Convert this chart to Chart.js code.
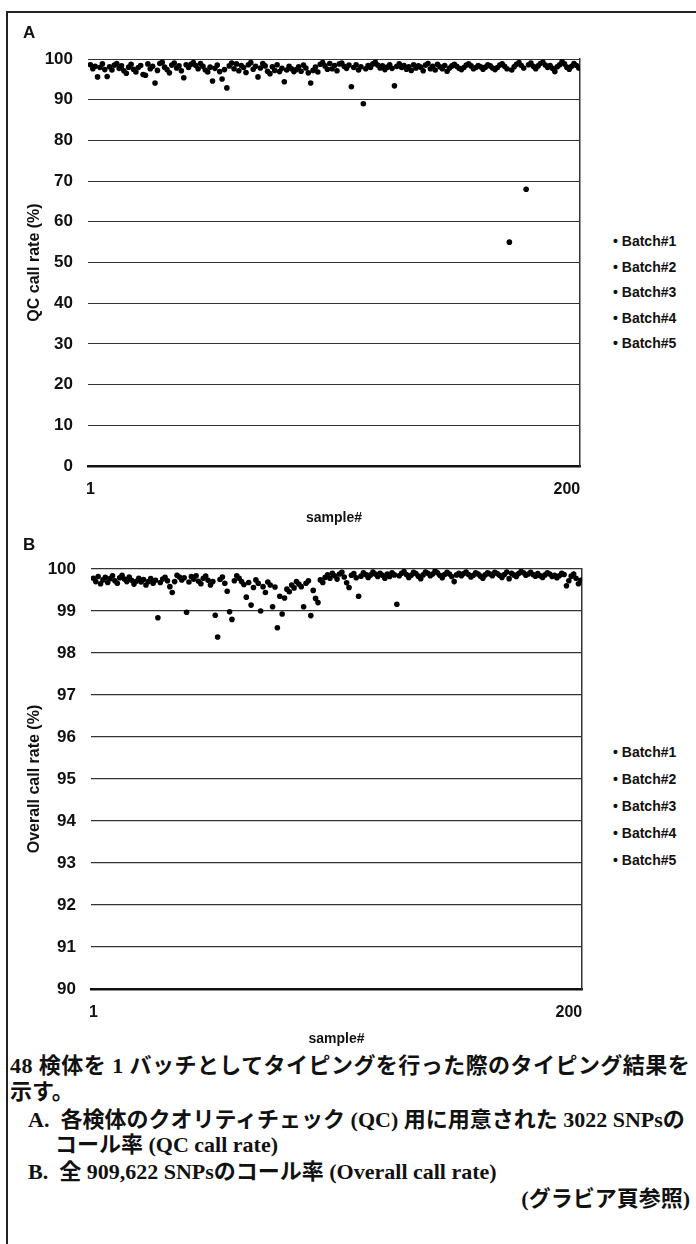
<!DOCTYPE html>
<html lang="ja">
<head>
<meta charset="utf-8">
<script src="https://cdn.jsdelivr.net/npm/chart.js@4.4.0/dist/chart.umd.min.js"></script>
<style>
  body { margin: 0; background: #fff; }
  #page { position: relative; width: 696px; height: 1244px; overflow: hidden; font-family: "Liberation Sans", Arial, sans-serif; color: #111; }
  #marco { position: absolute; left: 6px; top: 11px; width: 720px; height: 1300px; border-left: 2px solid #222; border-top: 2px solid #222; }
  canvas { position: absolute; left: 0; }
  .panel { position: absolute; left: 23px; font: bold 17px "Liberation Sans", Arial, sans-serif; }
  .leyenda { position: absolute; left: 613px; font: bold 14px "Liberation Sans", Arial, sans-serif; }
  .leyenda div { white-space: nowrap; }
  .cap { position: absolute; white-space: nowrap; font-family: "Liberation Serif", "Noto Sans CJK JP", serif; font-size: 22px; font-weight: bold; line-height: 22px; color: #111; }
</style>
</head>
<body>
<div id="page">
  <div id="marco"></div>
  <canvas id="chartQC" width="600" height="530" style="top:0px"></canvas>
  <canvas id="chartOverall" width="600" height="550" style="top:500px"></canvas>
  <div class="panel" style="top:23px">A</div>
  <div class="panel" style="top:535px">B</div>
  <div class="leyenda" id="leyendaQC" style="top:229px"></div>
  <div class="leyenda" id="leyendaOverall" style="top:739px"></div>

  <div class="cap" style="left:10px; top:1055px; letter-spacing:0.45px">48 検体を 1 バッチとしてタイピングを行った際のタイピング結果を</div>
  <div class="cap" style="left:10px; top:1081px">示す。</div>
  <div class="cap" style="left:28px; top:1109px">A.&nbsp; 各検体のクオリティチェック (QC) 用に用意された 3022 SNPsの</div>
  <div class="cap" style="left:55px; top:1134px">コール率 (QC call rate)</div>
  <div class="cap" style="left:28px; top:1161px">B.&nbsp; 全 909,622 SNPsのコール率 (Overall call rate)</div>
  <div class="cap" style="right:6px; top:1188px">(グラビア頁参照)</div>
</div>

<script>
// --- DATOS ---
const batchLabels = ['Batch#1', 'Batch#2', 'Batch#3', 'Batch#4', 'Batch#5'];
const batchSize = 41;
const xTicks = [1, 200];
const qcYTicks = [0, 10, 20, 30, 40, 50, 60, 70, 80, 90, 100];
const overallYTicks = [90, 91, 92, 93, 94, 95, 96, 97, 98, 99, 100];

// A: QC call rate (%)
const qcBatch1 = [98.6, 97.6, 98.2, 95.6, 97.9, 98.8, 97.4, 95.7, 98.1, 97.3, 98.5, 98.9, 97.7, 98.3, 97.1, 96.5, 98.0, 98.7, 97.5, 96.8, 97.9, 98.4, 96.2, 96.0, 98.8, 97.6, 98.2, 94.1, 97.2, 98.9, 99.2, 98.0, 97.4, 96.6, 98.5, 99.0, 97.8, 98.3, 97.1, 95.4, 98.6];
const qcBatch2 = [97.9, 98.7, 99.1, 98.4, 97.6, 98.9, 98.2, 97.3, 96.8, 98.0, 94.6, 97.7, 98.5, 96.9, 95.1, 97.4, 92.9, 98.3, 99.0, 97.6, 98.8, 97.1, 98.4, 97.9, 96.7, 98.6, 99.1, 97.5, 98.2, 95.6, 97.8, 98.9, 98.3, 97.0, 96.4, 98.1, 97.2, 98.6, 96.9, 97.7, 94.4];
const qcBatch3 = [97.3, 98.2, 97.6, 96.9, 97.4, 98.1, 97.0, 98.5, 97.8, 96.6, 94.1, 97.2, 98.0, 96.8, 98.7, 99.1, 98.3, 97.5, 98.9, 97.6, 98.4, 97.1, 98.8, 99.0, 98.2, 97.7, 98.5, 93.2, 97.9, 98.6, 97.3, 98.1, 89.0, 97.6, 98.4, 97.9, 98.8, 99.2, 98.5, 97.8, 98.3];
const qcBatch4 = [97.4, 98.0, 98.6, 97.7, 93.4, 98.2, 98.8, 97.9, 98.4, 97.5, 98.1, 97.2, 98.6, 97.8, 98.3, 98.0, 97.1, 98.5, 98.9, 97.6, 98.2, 97.3, 98.7, 98.1, 97.6, 98.4, 97.0, 97.8, 98.3, 98.7, 98.2, 97.7, 97.4, 97.9, 98.5, 98.8, 98.3, 97.6, 97.9, 98.4, 98.1];
const qcBatch5 = [97.5, 98.0, 98.6, 98.3, 97.8, 97.4, 97.9, 98.5, 98.8, 98.2, 97.6, 55.0, 97.3, 98.1, 98.7, 99.1, 98.4, 97.8, 68.0, 98.6, 99.0, 98.2, 97.6, 98.3, 98.9, 99.2, 98.5, 97.9, 98.4, 97.7, 96.9, 98.1, 98.6, 99.3, 98.8, 98.0, 97.5, 98.2, 98.9, 98.4, 97.8];

// B: Overall call rate (%)
const overallBatch1 = [99.78, 99.70, 99.82, 99.65, 99.74, 99.80, 99.68, 99.77, 99.84, 99.72, 99.66, 99.79, 99.85, 99.76, 99.70, 99.81, 99.73, 99.64, 99.71, 99.78, 99.69, 99.75, 99.62, 99.70, 99.77, 99.66, 99.73, 98.84, 99.68, 99.76, 99.80, 99.72, 99.58, 99.44, 99.70, 99.85, 99.81, 99.74, 99.79, 98.97, 99.69];
const overallBatch2 = [99.82, 99.76, 99.84, 99.71, 99.65, 99.78, 99.83, 99.73, 99.62, 99.70, 98.90, 98.38, 99.75, 99.81, 99.66, 99.47, 98.98, 98.80, 99.72, 99.84, 99.78, 99.70, 99.63, 99.33, 99.68, 99.14, 99.56, 99.74, 99.66, 99.00, 99.58, 99.44, 99.69, 99.62, 99.10, 99.57, 98.60, 99.35, 98.93, 99.31, 99.52];
const overallBatch3 = [99.46, 99.62, 99.55, 99.70, 99.64, 99.58, 99.10, 99.66, 99.72, 98.89, 99.49, 99.30, 99.20, 99.74, 99.68, 99.80, 99.86, 99.78, 99.90, 99.84, 99.76, 99.88, 99.92, 99.81, 99.67, 99.56, 99.85, 99.89, 99.79, 99.35, 99.83, 99.91, 99.87, 99.80, 99.86, 99.93, 99.88, 99.82, 99.90, 99.85, 99.78];
const overallBatch4 = [99.88, 99.82, 99.91, 99.86, 99.16, 99.84, 99.90, 99.94, 99.87, 99.80, 99.85, 99.92, 99.89, 99.83, 99.77, 99.86, 99.93, 99.90, 99.84, 99.88, 99.95, 99.91, 99.85, 99.79, 99.87, 99.92, 99.88, 99.82, 99.70, 99.86, 99.90, 99.84, 99.89, 99.93, 99.87, 99.81, 99.85, 99.91, 99.88, 99.83, 99.78];
const overallBatch5 = [99.86, 99.91, 99.88, 99.84, 99.92, 99.89, 99.85, 99.80, 99.87, 99.93, 99.77, 99.90, 99.86, 99.82, 99.89, 99.94, 99.91, 99.85, 99.88, 99.92, 99.87, 99.83, 99.89, 99.84, 99.80, 99.86, 99.91, 99.88, 99.82, 99.85, 99.79, 99.84, 99.90, 99.87, 99.60, 99.72, 99.83, 99.88, 99.78, 99.65, 99.73];

// --- GRÁFICOS ---
function armarDatasets(series) {
    return series.map((valores, b) => ({
        label: batchLabels[b],
        data: valores.map((v, i) => ({ x: b * batchSize + i + 1, y: v })),
        backgroundColor: '#000',
        borderColor: '#000',
        pointRadius: 2.8,
        pointBorderWidth: 0,
        showLine: false
    }));
}

function crearGrafico(id, series, cfg) {
    const ctx = document.getElementById(id).getContext('2d');
    return new Chart(ctx, {
        type: 'scatter',
        data: { datasets: armarDatasets(series) },
        options: {
            responsive: false,
            animation: false,
            devicePixelRatio: 1,
            layout: { padding: { top: cfg.top, right: cfg.right, left: 0, bottom: 0 } },
            plugins: { legend: { display: false }, tooltip: { enabled: false } },
            scales: {
                x: {
                    type: 'linear', min: 0, max: 205.5,
                    afterBuildTicks: s => { s.ticks = xTicks.map(v => ({ value: v })); },
                    afterFit: s => { s.height = cfg.xHeight; },
                    grid: { display: false, drawTicks: false },
                    border: { display: true, color: '#111', width: 2.5 },
                    ticks: { color: '#111', padding: cfg.xPad, maxRotation: 0, autoSkip: false,
                             font: { family: 'Liberation Sans', size: 16, weight: 'bold' } },
                    title: { display: true, text: 'sample#', color: '#111', padding: { top: 0, bottom: cfg.titlePad },
                             font: { family: 'Liberation Sans', size: 14, weight: 'bold' } }
                },
                y: {
                    min: cfg.yTicks[0], max: cfg.yTicks[cfg.yTicks.length - 1],
                    afterBuildTicks: s => { s.ticks = cfg.yTicks.map(v => ({ value: v })); },
                    afterFit: s => { s.width = cfg.yWidth; },
                    grid: { color: '#333', lineWidth: cfg.gridWidth, drawTicks: false },
                    border: { display: false },
                    ticks: { color: '#111', padding: 15,
                             font: { family: 'Liberation Sans', size: 17, weight: 'bold' } },
                    title: { display: true, text: cfg.yTitle, color: '#111', padding: { top: 25, bottom: 0 },
                             font: { family: 'Liberation Sans', size: 16, weight: 'bold' } }
                },
                derecha: {
                    position: 'right', min: 0, max: 1,
                    afterFit: s => { s.width = 0; },
                    grid: { display: false, drawTicks: false },
                    ticks: { display: false },
                    border: { display: true, color: '#333', width: 1.5, dash: [2, 2] }
                }
            }
        }
    });
}

function armarLeyenda(id, alto) {
    const cont = document.getElementById(id);
    batchLabels.forEach(nombre => {
        const fila = document.createElement('div');
        fila.style.height = alto + 'px';
        fila.style.lineHeight = alto + 'px';
        fila.textContent = '• ' + nombre;
        cont.appendChild(fila);
    });
}

crearGrafico('chartQC', [qcBatch1, qcBatch2, qcBatch3, qcBatch4, qcBatch5], {
    top: 59, right: 20, yWidth: 88, xHeight: 64, xPad: 14, titlePad: 3,
    yTicks: qcYTicks, yTitle: 'QC call rate (%)', gridWidth: 1
});
crearGrafico('chartOverall', [overallBatch1, overallBatch2, overallBatch3, overallBatch4, overallBatch5], {
    top: 69, right: 18, yWidth: 91, xHeight: 61, xPad: 14, titlePad: 2,
    yTicks: overallYTicks, yTitle: 'Overall call rate (%)', gridWidth: 1.3
});

armarLeyenda('leyendaQC', 25.5);
armarLeyenda('leyendaOverall', 27);
</script>
</body>
</html>
